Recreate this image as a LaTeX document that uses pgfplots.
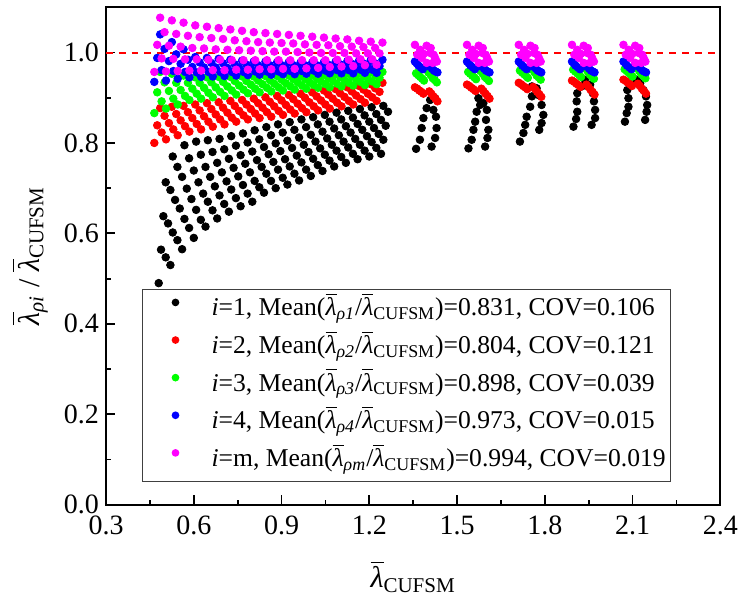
\documentclass[border=0pt]{standalone}
\usepackage{amsmath}
\usepackage{fontspec}
\setmainfont{Liberation Serif}
\usepackage{pgfplots}
\usepackage{pgfplotstable}
\pgfplotsset{compat=1.18}
\definecolor{pR}{RGB}{255,0,0}
\definecolor{pG}{RGB}{0,255,0}
\definecolor{pB}{RGB}{0,0,255}
\definecolor{pM}{RGB}{255,0,255}
\newcommand{\lb}[1]{$\overline{\text{\itshape λ}}_{#1}$}

% slenderness ratios, lower range: x = lambda_CUFSM, y1 = i=1
\pgfplotstableread{
x y
0.480 0.490
0.520 0.530
0.560 0.565
0.600 0.590
0.640 0.615
0.680 0.633
0.720 0.648
0.760 0.660
0.800 0.670
0.840 0.690
0.880 0.700
0.920 0.708
0.960 0.717
1.000 0.727
1.040 0.738
1.080 0.748
1.120 0.756
1.160 0.764
1.200 0.770
1.240 0.776
0.504 0.547
0.544 0.585
0.584 0.612
0.624 0.630
0.664 0.651
0.704 0.665
0.744 0.678
0.784 0.688
0.824 0.702
0.864 0.716
0.904 0.723
0.944 0.732
0.984 0.741
1.024 0.751
1.064 0.761
1.104 0.769
1.144 0.776
1.184 0.783
1.224 0.789
0.488 0.564
0.528 0.602
0.568 0.632
0.608 0.652
0.648 0.670
0.688 0.684
0.728 0.697
0.768 0.707
0.808 0.716
0.848 0.732
0.888 0.741
0.928 0.748
0.968 0.757
1.008 0.765
1.048 0.774
1.088 0.783
1.128 0.790
1.168 0.796
1.208 0.802
1.248 0.807
0.512 0.622
0.552 0.655
0.592 0.676
0.632 0.688
0.672 0.704
0.712 0.715
0.752 0.726
0.792 0.735
0.832 0.747
0.872 0.758
0.912 0.764
0.952 0.772
0.992 0.780
1.032 0.788
1.072 0.796
1.112 0.803
1.152 0.809
1.192 0.815
1.232 0.820
0.496 0.638
0.536 0.674
0.576 0.699
0.616 0.713
0.656 0.725
0.696 0.735
0.736 0.745
0.776 0.754
0.816 0.762
0.856 0.775
0.896 0.782
0.936 0.789
0.976 0.796
1.016 0.803
1.056 0.810
1.096 0.817
1.136 0.823
1.176 0.829
1.216 0.833
1.256 0.838
0.520 0.696
0.560 0.725
0.600 0.739
0.640 0.747
0.680 0.756
0.720 0.765
0.760 0.773
0.800 0.781
0.840 0.791
0.880 0.799
0.920 0.805
0.960 0.812
1.000 0.818
1.040 0.825
1.080 0.832
1.120 0.837
1.160 0.842
1.200 0.847
1.240 0.851
0.504 0.713
0.544 0.747
0.584 0.766
0.624 0.774
0.664 0.780
0.704 0.786
0.744 0.794
0.784 0.801
0.824 0.808
0.864 0.817
0.904 0.823
0.944 0.829
0.984 0.835
1.024 0.841
1.064 0.847
1.104 0.852
1.144 0.856
1.184 0.861
1.224 0.864
1.264 0.869
0.528 0.770
0.568 0.795
0.608 0.803
0.648 0.806
0.688 0.809
0.728 0.815
0.768 0.821
0.808 0.828
0.848 0.835
0.888 0.841
0.928 0.846
0.968 0.852
1.008 0.857
1.048 0.862
1.088 0.867
1.128 0.871
1.168 0.875
1.208 0.879
1.248 0.882
}\blackA

% higher slenderness groups, i=1
\pgfplotstableread{
x y
1.360 0.787
1.373 0.807
1.379 0.833
1.385 0.855
1.396 0.877
1.408 0.895
1.413 0.792
1.425 0.811
1.430 0.833
1.428 0.858
1.419 0.873
1.425 0.899
1.539 0.788
1.550 0.807
1.556 0.829
1.562 0.847
1.567 0.869
1.579 0.884
1.573 0.899
1.596 0.792
1.604 0.811
1.607 0.829
1.599 0.851
1.602 0.873
1.590 0.888
1.715 0.803
1.727 0.822
1.733 0.840
1.738 0.858
1.750 0.880
1.756 0.903
1.756 0.925
1.781 0.829
1.789 0.844
1.795 0.862
1.789 0.884
1.778 0.906
1.772 0.921
1.898 0.836
1.907 0.853
1.911 0.869
1.909 0.892
1.911 0.910
1.926 0.925
1.937 0.940
1.960 0.840
1.972 0.855
1.972 0.873
1.968 0.892
1.964 0.910
1.955 0.929
2.074 0.847
2.080 0.866
2.086 0.880
2.086 0.899
2.082 0.917
2.097 0.929
2.114 0.940
2.143 0.851
2.148 0.869
2.150 0.884
2.146 0.903
2.137 0.917
2.126 0.932
}\blackB

% lower range, i=2 (r), i=3 (g), i=4 (b), i=m (m)
\pgfplotstableread{
x r g b m
0.465 0.800 0.866 0.935 0.957
0.505 0.808 0.876 0.938 0.958
0.545 0.817 0.885 0.942 0.959
0.585 0.825 0.895 0.945 0.960
0.625 0.830 0.898 0.946 0.960
0.665 0.836 0.901 0.947 0.961
0.705 0.841 0.904 0.948 0.961
0.745 0.847 0.907 0.949 0.962
0.785 0.852 0.910 0.950 0.962
0.825 0.855 0.912 0.951 0.963
0.865 0.858 0.914 0.951 0.963
0.905 0.862 0.916 0.952 0.964
0.945 0.865 0.918 0.952 0.964
0.985 0.868 0.920 0.953 0.965
1.025 0.872 0.922 0.953 0.966
1.065 0.876 0.923 0.954 0.968
1.105 0.881 0.925 0.954 0.969
1.145 0.885 0.927 0.954 0.970
1.185 0.889 0.928 0.955 0.972
1.225 0.893 0.930 0.955 0.973
0.490 0.823 0.892 0.961 0.987
0.530 0.830 0.898 0.959 0.986
0.570 0.837 0.904 0.957 0.985
0.610 0.842 0.909 0.956 0.985
0.650 0.847 0.911 0.957 0.984
0.690 0.852 0.913 0.957 0.984
0.730 0.856 0.916 0.957 0.983
0.770 0.861 0.918 0.957 0.983
0.810 0.865 0.920 0.958 0.983
0.850 0.868 0.922 0.958 0.983
0.890 0.871 0.923 0.958 0.983
0.930 0.874 0.925 0.959 0.983
0.970 0.877 0.927 0.959 0.983
1.010 0.881 0.928 0.960 0.983
1.050 0.885 0.930 0.960 0.983
1.090 0.889 0.931 0.961 0.984
1.130 0.893 0.933 0.961 0.984
1.170 0.897 0.935 0.962 0.985
1.210 0.901 0.936 0.962 0.985
0.475 0.839 0.912 0.988 1.017
0.515 0.844 0.915 0.981 1.015
0.555 0.850 0.917 0.975 1.013
0.595 0.855 0.920 0.968 1.010
0.635 0.859 0.922 0.967 1.009
0.675 0.863 0.923 0.967 1.007
0.715 0.867 0.925 0.966 1.006
0.755 0.871 0.927 0.966 1.005
0.795 0.875 0.929 0.965 1.004
0.835 0.878 0.930 0.965 1.003
0.875 0.881 0.931 0.965 1.002
0.915 0.884 0.932 0.965 1.002
0.955 0.887 0.934 0.965 1.001
0.995 0.890 0.935 0.966 1.000
1.035 0.894 0.936 0.966 0.999
1.075 0.898 0.938 0.967 0.999
1.115 0.902 0.939 0.968 0.999
1.155 0.905 0.941 0.968 0.998
1.195 0.909 0.942 0.969 0.998
1.235 0.913 0.944 0.970 0.998
0.500 0.860 0.934 1.008 1.045
0.540 0.864 0.933 0.996 1.041
0.580 0.868 0.933 0.984 1.037
0.620 0.872 0.933 0.978 1.034
0.660 0.875 0.934 0.977 1.032
0.700 0.878 0.935 0.976 1.030
0.740 0.882 0.937 0.974 1.027
0.780 0.885 0.937 0.973 1.025
0.820 0.888 0.938 0.972 1.023
0.860 0.891 0.939 0.972 1.022
0.900 0.894 0.940 0.972 1.021
0.940 0.897 0.941 0.972 1.020
0.980 0.900 0.942 0.972 1.018
1.020 0.903 0.943 0.972 1.017
1.060 0.907 0.944 0.973 1.016
1.100 0.910 0.946 0.974 1.014
1.140 0.914 0.947 0.975 1.013
1.180 0.918 0.948 0.976 1.012
1.220 0.921 0.950 0.976 1.010
0.485 0.877 0.957 1.040 1.077
0.525 0.880 0.953 1.023 1.071
0.565 0.882 0.949 1.007 1.066
0.605 0.885 0.945 0.990 1.060
0.645 0.888 0.945 0.988 1.057
0.685 0.890 0.946 0.986 1.054
0.725 0.893 0.946 0.984 1.051
0.765 0.895 0.947 0.982 1.048
0.805 0.898 0.947 0.980 1.045
0.845 0.901 0.948 0.980 1.043
0.885 0.904 0.948 0.979 1.041
0.925 0.906 0.949 0.979 1.039
0.965 0.909 0.949 0.978 1.037
1.005 0.912 0.950 0.978 1.035
1.045 0.916 0.951 0.979 1.033
1.085 0.919 0.952 0.980 1.031
1.125 0.923 0.954 0.981 1.029
1.165 0.926 0.955 0.982 1.026
1.205 0.930 0.956 0.983 1.024
1.245 0.933 0.957 0.984 1.022
}\colA

% higher slenderness groups, i=2
\pgfplotstableread{
x y
1.356 0.923
1.364 0.920
1.371 0.916
1.378 0.913
1.385 0.909
1.405 0.914
1.412 0.909
1.419 0.903
1.426 0.898
1.433 0.892
1.534 0.929
1.542 0.926
1.549 0.922
1.556 0.919
1.563 0.915
1.583 0.920
1.590 0.915
1.597 0.909
1.604 0.904
1.611 0.898
1.711 0.933
1.719 0.930
1.726 0.926
1.733 0.923
1.740 0.919
1.760 0.924
1.767 0.919
1.774 0.913
1.781 0.908
1.788 0.902
1.893 0.938
1.901 0.935
1.908 0.931
1.915 0.928
1.922 0.924
1.942 0.929
1.949 0.924
1.956 0.918
1.963 0.913
1.970 0.907
2.069 0.940
2.077 0.937
2.084 0.933
2.091 0.930
2.098 0.926
2.118 0.931
2.125 0.926
2.132 0.920
2.139 0.915
2.146 0.909
}\redB

% higher slenderness groups, i=3
\pgfplotstableread{
x y
1.360 0.954
1.367 0.950
1.374 0.946
1.381 0.942
1.387 0.938
1.402 0.956
1.410 0.950
1.417 0.943
1.424 0.939
1.431 0.934
1.538 0.957
1.545 0.953
1.552 0.949
1.559 0.945
1.565 0.941
1.580 0.959
1.588 0.953
1.595 0.946
1.602 0.942
1.609 0.937
1.715 0.960
1.722 0.956
1.729 0.952
1.736 0.948
1.742 0.944
1.757 0.962
1.765 0.956
1.772 0.949
1.779 0.945
1.786 0.940
1.897 0.962
1.904 0.958
1.911 0.954
1.918 0.950
1.924 0.946
1.939 0.964
1.947 0.958
1.954 0.951
1.961 0.947
1.968 0.942
2.073 0.963
2.080 0.959
2.087 0.955
2.094 0.951
2.100 0.947
2.115 0.965
2.123 0.959
2.130 0.952
2.137 0.948
2.144 0.943
}\greenB

% higher slenderness groups, i=4
\pgfplotstableread{
x y
1.356 0.980
1.362 0.976
1.368 0.971
1.376 0.967
1.383 0.963
1.408 0.968
1.415 0.964
1.421 0.960
1.427 0.958
1.433 0.956
1.534 0.980
1.540 0.976
1.546 0.971
1.554 0.967
1.561 0.963
1.586 0.968
1.593 0.964
1.599 0.960
1.605 0.958
1.611 0.956
1.711 0.980
1.717 0.976
1.723 0.971
1.731 0.967
1.738 0.963
1.763 0.968
1.770 0.964
1.776 0.960
1.782 0.958
1.788 0.956
1.893 0.980
1.899 0.976
1.905 0.971
1.913 0.967
1.920 0.963
1.945 0.968
1.952 0.964
1.958 0.960
1.964 0.958
1.970 0.956
2.069 0.980
2.075 0.976
2.081 0.971
2.089 0.967
2.096 0.963
2.121 0.968
2.128 0.964
2.134 0.960
2.140 0.958
2.146 0.956
}\blueB

% higher slenderness groups, i=m
\pgfplotstableread{
x y
1.356 1.017
1.396 1.015
1.374 1.006
1.408 0.999
1.425 0.988
1.379 0.988
1.396 0.977
1.417 0.977
1.431 0.980
1.364 0.995
1.386 0.997
1.410 1.010
1.420 0.995
1.534 1.017
1.574 1.015
1.552 1.006
1.586 0.999
1.603 0.988
1.557 0.988
1.574 0.977
1.595 0.977
1.609 0.980
1.542 0.995
1.564 0.997
1.588 1.010
1.598 0.995
1.711 1.017
1.751 1.015
1.729 1.006
1.763 0.999
1.780 0.988
1.734 0.988
1.751 0.977
1.772 0.977
1.786 0.980
1.719 0.995
1.741 0.997
1.765 1.010
1.775 0.995
1.893 1.017
1.933 1.015
1.911 1.006
1.945 0.999
1.962 0.988
1.916 0.988
1.933 0.977
1.954 0.977
1.968 0.980
1.901 0.995
1.923 0.997
1.947 1.010
1.957 0.995
2.069 1.017
2.109 1.015
2.087 1.006
2.121 0.999
2.138 0.988
2.092 0.988
2.109 0.977
2.130 0.977
2.144 0.980
2.077 0.995
2.099 0.997
2.123 1.010
2.133 0.995
}\magB

\pgfplotsset{
  dots/.style={only marks, mark=*, mark size=1.9pt,
    legend image code/.code={\path (0pt,0pt) (27.5pt,0pt);
      \draw[only marks,##1,mark size=1.6pt] plot coordinates {(13.5pt,4pt)};}},
}

\begin{document}
\begin{tikzpicture}
\useasboundingbox (-53pt,-49.25pt) rectangle (316.35pt,252.25pt);
\begin{axis}[
  scale only axis, width=307pt, height=248.6pt,
  xmin=0.3, xmax=2.4, ymin=0, ymax=1.1,
  xtick={0.3,0.6,0.9,1.2,1.5,1.8,2.1,2.4},
  ytick={0,0.2,0.4,0.6,0.8,1.0},
  minor x tick num=1, minor y tick num=1,
  tick pos=left, tick align=inside,
  major tick length=4.7pt, minor tick length=2.4pt,
  axis line style={line width=1pt},
  every tick/.style={black, line width=0.9pt},
  /pgf/number format/fixed, /pgf/number format/fixed zerofill,
  /pgf/number format/precision=1,
  /pgf/number format/assume math mode=true,
  tick label style={font=\fontsize{14}{16.8}\selectfont},
  xticklabel style={yshift=-2.3pt},
  xlabel={\lb{\text{CUFSM}}},
  ylabel={\lb{\text{\itshape ρi}} / \lb{\text{CUFSM}}},
  every axis x label/.style={at={(rel axis cs:0.5,0)}, yshift=-36pt, anchor=center,
    font=\fontsize{15}{18}\selectfont},
  every axis y label/.style={at={(rel axis cs:0,0.5)}, xshift=-38pt, rotate=90, anchor=center,
    font=\fontsize{15}{18}\selectfont},
  legend cell align=left,
  legend style={at={(rel axis cs:0.059,0.4336)}, anchor=north west,
    draw=black!75, line width=0.6pt, fill=white,
    inner xsep=2.5pt, inner ysep=2.15pt, row sep=2.3pt, column sep=3.7pt,
    font=\fontsize{12.8}{15}\selectfont,
    nodes={inner sep=0pt, text height=11pt, text depth=5.5pt}},
]
\addplot[dots, black] table[x=x, y=y] {\blackA};
\addlegendentry{\textit{i}=1, Mean(\lb{\text{\itshape ρ1}}/\lb{\text{CUFSM}})=0.831, COV=0.106}
\addplot[dots, black, forget plot] table[x=x, y=y] {\blackB};
\addplot[dots, pR] table[x=x, y=r] {\colA};
\addlegendentry{\textit{i}=2, Mean(\lb{\text{\itshape ρ2}}/\lb{\text{CUFSM}})=0.804, COV=0.121}
\addplot[dots, pR, forget plot] table[x=x, y=y] {\redB};
\addplot[dots, pG] table[x=x, y=g] {\colA};
\addlegendentry{\textit{i}=3, Mean(\lb{\text{\itshape ρ3}}/\lb{\text{CUFSM}})=0.898, COV=0.039}
\addplot[dots, pG, forget plot] table[x=x, y=y] {\greenB};
\addplot[dots, pB] table[x=x, y=b] {\colA};
\addlegendentry{\textit{i}=4, Mean(\lb{\text{\itshape ρ4}}/\lb{\text{CUFSM}})=0.973, COV=0.015}
\addplot[dots, pB, forget plot] table[x=x, y=y] {\blueB};
\addplot[dots, pM] table[x=x, y=m] {\colA};
\addlegendentry{\textit{i}=m, Mean(\lb{\text{\itshape ρm}}/\lb{\text{CUFSM}})=0.994, COV=0.019}
\addplot[dots, pM, forget plot] table[x=x, y=y] {\magB};
% reference level
\addplot[forget plot, pR, line width=1pt, dash pattern=on 3.4pt off 3pt] coordinates {(0.3,1) (2.4,1)};
\end{axis}
\end{tikzpicture}
\end{document}
